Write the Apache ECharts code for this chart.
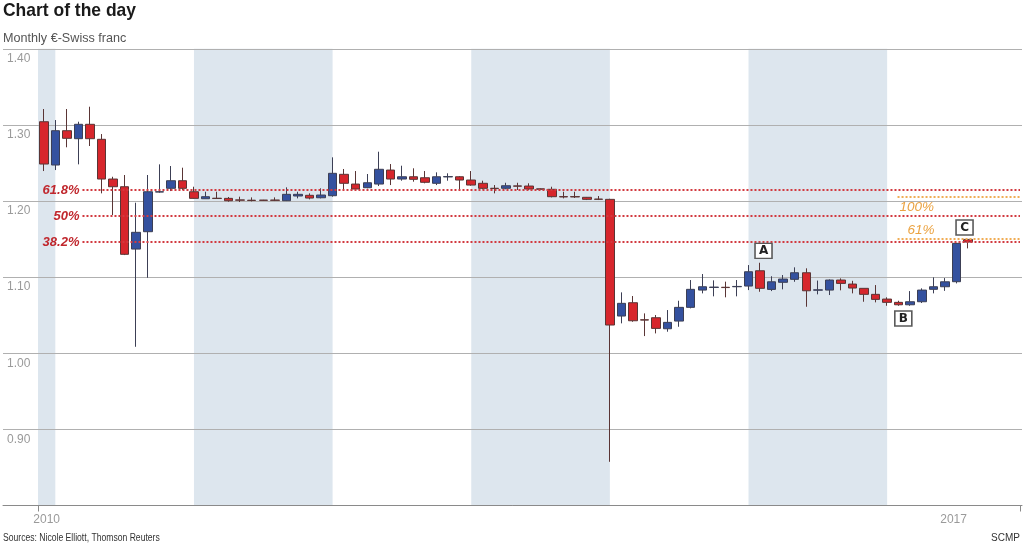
<!DOCTYPE html>
<html>
<head>
<meta charset="utf-8">
<script src="https://cdn.jsdelivr.net/npm/echarts@6/dist/echarts.min.js"></script>
<style>
html,body{margin:0;padding:0;background:#fff;}
#chart{width:1024px;height:547px;}
</style>
</head>
<body>
<div id="chart"></div>
<script>
// Month index 0 = Dec 2010 ... 80 = Aug 2017
var months = [];
(function(){ var y=2010, m=12; for (var i=0;i<81;i++){ months.push(y+'-'+(m<10?'0'+m:m)); m++; if(m>12){m=1;y++;} } })();

var opens = [1.3042,1.2473,1.2924,1.2819,1.3008,1.2811,1.2289,1.2188,1.1369,1.1597,
 1.2118,1.2167,1.2267,1.2122,1.2030,1.2037,1.2035,1.2015,1.2011,1.2012,
 1.2013,1.2004,1.2066,1.2075,1.2043,1.2070,1.2351,1.2223,1.2175,1.2223,
 1.2407,1.2289,1.2319,1.2306,1.2233,1.2317,1.2319,1.2276,1.2233,1.2168,
 1.2167,1.2199,1.2197,1.2160,1.2154,1.2058,1.2058,1.2049,1.2026,1.2022,
 1.0489,1.0664,1.0440,1.0467,1.0322,1.0423,1.0603,1.0830,1.0865,1.0867,
 1.0874,1.0883,1.1084,1.0839,1.0932,1.0971,1.1058,1.0829,1.0830,1.0962,
 1.0909,1.0853,1.0774,1.0712,1.0669,1.0637,1.0677,1.0840,1.0874,1.0940,1.1496];
var closes = [1.2486,1.2924,1.2824,1.3008,1.2819,1.2289,1.2188,1.1300,1.1589,1.2122,
 1.2122,1.2267,1.2167,1.2035,1.2057,1.2033,1.2004,1.2011,1.2007,1.2009,
 1.2009,1.2088,1.2088,1.2039,1.2079,1.2364,1.2233,1.2158,1.2240,1.2417,
 1.2289,1.2319,1.2285,1.2246,1.2319,1.2321,1.2276,1.2210,1.2167,1.2164,
 1.2201,1.2195,1.2158,1.2155,1.2057,1.2054,1.2054,1.2022,1.2022,1.0371,
 1.0656,1.0427,1.0436,1.0327,1.0406,1.0603,1.0840,1.0874,1.0869,1.0863,
 1.0878,1.1071,1.0853,1.0939,1.0975,1.1058,1.0821,1.0833,1.0962,1.0918,
 1.0857,1.0774,1.0708,1.0669,1.0637,1.0677,1.0830,1.0874,1.0939,1.1444,1.1461];
var lows = [1.2394,1.2407,1.2706,1.2482,1.2723,1.2101,1.1816,1.1290,1.0085,1.0992,
 1.2110,1.2131,1.2145,1.2030,1.2030,1.2030,1.1991,1.1987,1.1995,1.2005,
 1.2000,1.2000,1.2035,1.2022,1.2035,1.2057,1.2135,1.2154,1.2167,1.2197,
 1.2210,1.2267,1.2254,1.2233,1.2210,1.2267,1.2154,1.2201,1.2154,1.2101,
 1.2154,1.2145,1.2145,1.2150,1.2048,1.2035,1.2040,1.2013,1.2013,0.8574,
 1.0393,1.0414,1.0226,1.0261,1.0283,1.0348,1.0590,1.0787,1.0748,1.0735,
 1.0748,1.0830,1.0808,1.0817,1.0840,1.0939,1.0611,1.0774,1.0765,1.0827,
 1.0787,1.0677,1.0669,1.0624,1.0624,1.0624,1.0660,1.0787,1.0820,1.0918,1.1378];
var highs = [1.3209,1.3064,1.3209,1.3042,1.3239,1.2880,1.2319,1.2342,1.1978,1.2342,
 1.2482,1.2460,1.2438,1.2188,1.2122,1.2122,1.2053,1.2057,1.2048,1.2015,
 1.2048,1.2180,1.2122,1.2101,1.2167,1.2574,1.2421,1.2394,1.2355,1.2648,
 1.2486,1.2464,1.2430,1.2394,1.2377,1.2364,1.2328,1.2394,1.2267,1.2210,
 1.2240,1.2240,1.2233,1.2165,1.2188,1.2122,1.2122,1.2053,1.2066,1.2030,
 1.0800,1.0752,1.0524,1.0502,1.0568,1.0690,1.0962,1.1041,1.0958,1.0941,
 1.0962,1.1159,1.1189,1.1012,1.1028,1.1129,1.1116,1.0955,1.0970,1.0984,
 1.0952,1.0853,1.0896,1.0735,1.0690,1.0817,1.0853,1.0997,1.0988,1.1450,1.1500];

// shaded years (month-index ranges)
var bandStarts = [-0.5, 13, 37, 61];
var bandEnds   = [1, 25, 49, 73];

// tick labels
var xLabelPos = [0.25, 78.75];
var xLabelText = ['2010', '2017'];

// Fibonacci levels
var fibNames = ['61.8%', '50%', '38.2%'];
var fibValues = [1.2145, 1.1803, 1.1461];
var extNames = ['100%', '61%'];
var extValues = [1.2059, 1.1507];

// annotations: label, month index, price
var annoNames = ['A', 'B', 'C'];
var annoIdx = [62.3, 74.4, 79.7];
var annoPrice = [1.1345, 1.0456, 1.1652];

var FONT = "'Liberation Sans Narrow','Liberation Sans',sans-serif";

var candleData = months.map(function(m, i){ return [i, opens[i], closes[i], lows[i], highs[i]]; });

var X_END = 84.5;
var fibLines = fibValues.map(function(v, k){
  return [{coord: [3.35, v], label: {formatter: fibNames[k]}}, {coord: [X_END, v]}];
});
var extLines = extValues.map(function(v, k){
  return [{coord: [73.9, v], label: {formatter: extNames[k], position: k === 0 ? 'insideStartBottom' : 'insideStartTop',
            color: '#eba342', fontStyle: 'italic', fontWeight: 'normal', fontSize: 13.5, distance: k===0?[2,4]:[10,1]},
           lineStyle: {color: '#f0ad55'}}, {coord: [X_END, v]}];
});

function txt(str, x, y, size, weight, color, sx){
  return {type: 'text', left: x, top: y, scaleX: sx, z: 10,
          style: {text: str, font: weight + ' ' + size + 'px ' + FONT, fill: color}};
}

var chart = echarts.init(document.getElementById('chart'), null, {renderer: 'canvas'});
chart.setOption({
  animation: false,
  backgroundColor: '#fff',
  textStyle: {fontFamily: FONT},
  graphic: [
    txt('Chart of the day', 3, 1, 19, 'bold', '#1a1a1a', 0.92),
    txt('Monthly €-Swiss franc', 3, 32, 13, 'normal', '#555', 0.97),
    txt('Sources: Nicole Elliott, Thomson Reuters', 3, 533, 10, 'normal', '#333', 0.86),
    {type: 'text', right: 4, top: 533, z: 10, style: {text: 'SCMP', font: 'normal 10px ' + FONT, fill: '#333'}}
  ],
  grid: [
    {left: 3, right: 2, top: 48.8, bottom: 41.5, containLabel: false},
    {left: 38, right: 4, top: 48.8, bottom: 41.5, containLabel: false}
  ],
  xAxis: [
    {gridIndex: 0, type: 'value', min: 0, max: 1, z: 2,
     axisLine: {show: true, lineStyle: {color: '#8a8a8a', width: 1}},
     axisTick: {show: false}, axisLabel: {show: false}, splitLine: {show: false}},
    {gridIndex: 1, type: 'value', min: -0.5, max: 84.5,
     axisLine: {show: false},
     axisTick: {show: true, customValues: [-0.5, 84.5], length: 6, lineStyle: {color: '#8a8a8a'}},
     axisLabel: {show: true, customValues: xLabelPos, margin: 8, color: '#9a9a9a', fontSize: 12, fontFamily: FONT,
       formatter: function(v){ var k = xLabelPos.indexOf(v); return k >= 0 ? xLabelText[k] : ''; }},
     splitLine: {show: false}}
  ],
  yAxis: [
    {gridIndex: 0, type: 'value', min: 0.8, max: 1.4, interval: 0.1, z: 2,
     axisLine: {show: false}, axisTick: {show: false},
     axisLabel: {show: true, inside: true, margin: 4, verticalAlign: 'top', padding: [4, 0, 0, 0],
       color: '#9a9a9a', fontSize: 12, fontFamily: FONT,
       formatter: function(v){ return v < 0.85 ? '' : v.toFixed(2); }},
     splitLine: {show: true, lineStyle: {color: '#b0b0b0', width: 1.2}}},
    {gridIndex: 1, type: 'value', min: 0.8, max: 1.4, show: false, splitLine: {show: false}}
  ],
  series: [
    {
      type: 'candlestick', xAxisIndex: 1, yAxisIndex: 1, z: 3,
      barWidth: 9,
      encode: {x: 0, y: [1, 2, 3, 4]},
      data: candleData,
      itemStyle: {color: '#34519f', color0: '#d7262c', borderColor: '#3c3f55', borderColor0: '#5a3535', borderWidth: 1},
      markArea: {
        silent: true, z: 1,
        itemStyle: {color: '#dde6ee'},
        data: bandStarts.map(function(s, k){ return [{xAxis: s}, {xAxis: bandEnds[k]}]; })
      },
      markPoint: {
        silent: true, z: 6,
        symbol: 'rect', symbolSize: [17, 15],
        itemStyle: {color: '#fff', borderColor: '#5a5a5a', borderWidth: 1.5},
        label: {show: true, position: 'inside', color: '#222', fontWeight: 'bold', fontSize: 12, fontFamily: 'DejaVu Sans',
                formatter: function(p){ return p.name; }},
        data: annoNames.map(function(n, k){ return {name: n, coord: [annoIdx[k], annoPrice[k]]}; })
      }
    },
    {
      type: 'line', xAxisIndex: 1, yAxisIndex: 1, z: 5, data: [], silent: true,
      markLine: {
        silent: true, symbol: 'none', z: 5,
        lineStyle: {color: '#d23a40', type: [2, 2], width: 2},
        label: {show: true, position: 'start', distance: 3, color: '#c0272d', fontStyle: 'italic', fontWeight: 'bold',
                fontSize: 13, fontFamily: FONT},
        data: fibLines.concat(extLines)
      }
    }
  ]
});
</script>
</body>
</html>
